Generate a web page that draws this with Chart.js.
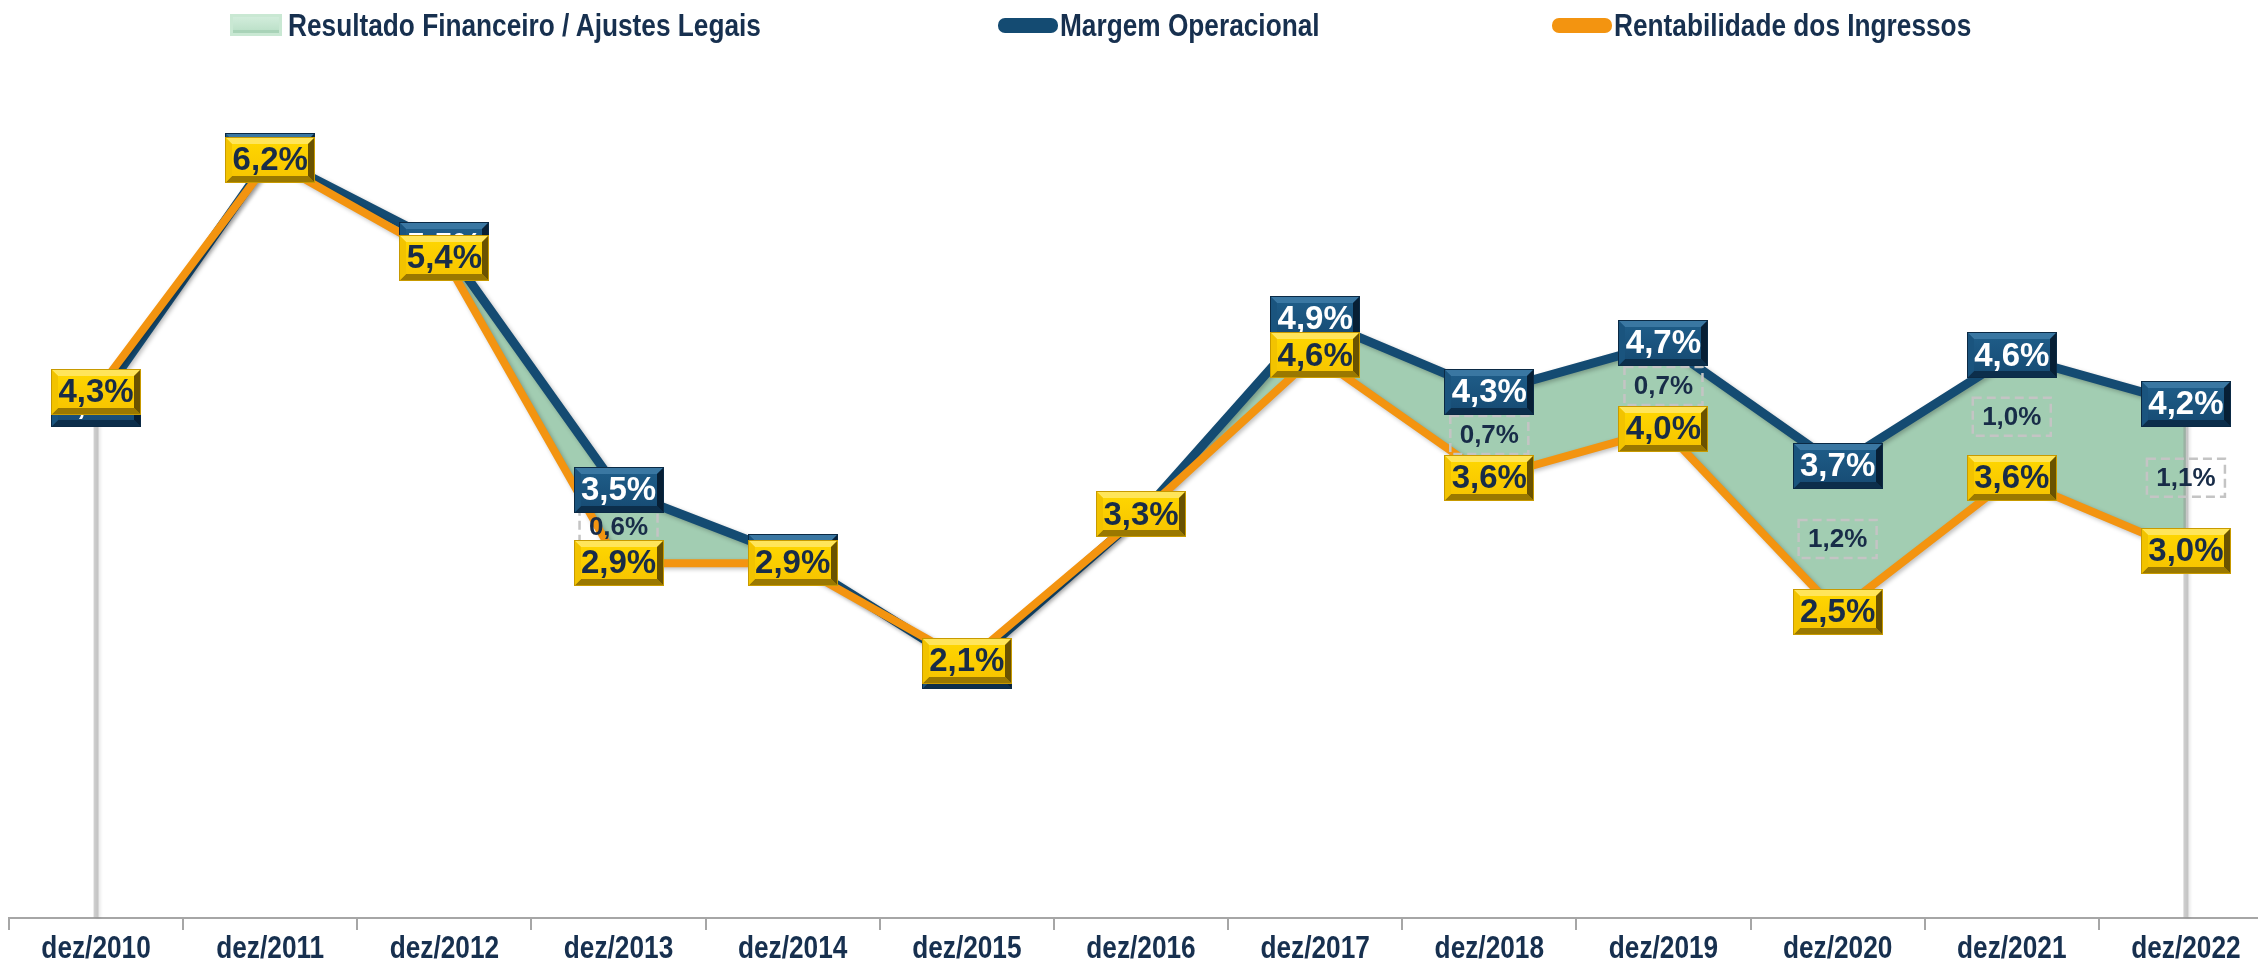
<!DOCTYPE html>
<html>
<head>
<meta charset="utf-8">
<script src="https://cdn.jsdelivr.net/npm/chart.js@4.4.1/dist/chart.umd.min.js"></script>
<style>
  body { margin: 0; background: #fff; overflow: hidden; }
  #wrap { position: relative; width: 2258px; height: 960px; overflow: hidden; }
  #grafico { position: absolute; left: 0; top: 0; }
  .leg { position: absolute; top: 9px; font: bold 32px "Liberation Sans", Arial, sans-serif;
         line-height: 32px; color: #17304f; white-space: nowrap;
         transform: scaleX(0.82); transform-origin: 0 50%; }
  .sw { position: absolute; }
</style>
</head>
<body>
<div id="wrap">
  <canvas id="grafico" width="2290" height="960"></canvas>
  <div class="sw" style="left:230px;top:14px;width:52px;height:22px;background:linear-gradient(#d6efdf,#b4dcc2);box-shadow:inset 0 0 0 3px #c9e8d3, inset 0 -3px 0 3px #a9d3b8;"></div>
  <div class="leg" style="left:288px">Resultado Financeiro / Ajustes Legais</div>
  <div class="sw" style="left:998px;top:18px;width:60px;height:15px;border-radius:7px;background:#144b72;"></div>
  <div class="leg" style="left:1060px">Margem Operacional</div>
  <div class="sw" style="left:1552px;top:18px;width:60px;height:15px;border-radius:7px;background:#f39410;"></div>
  <div class="leg" style="left:1614px">Rentabilidade dos Ingressos</div>
</div>
<script>
var anos = ['dez/2010', 'dez/2011', 'dez/2012', 'dez/2013', 'dez/2014', 'dez/2015', 'dez/2016',
            'dez/2017', 'dez/2018', 'dez/2019', 'dez/2020', 'dez/2021', 'dez/2022'];
var margemOperacional = [4.2, 6.23, 5.5, 3.5, 2.95, 2.06, 3.3, 4.9, 4.3, 4.7, 3.7, 4.6, 4.2];
var rentabilidade = [4.3, 6.2, 5.4, 2.9, 2.9, 2.1, 3.3, 4.6, 3.6, 4.0, 2.5, 3.6, 3.0];
var resultadoFinanceiro = [null, null, null, 0.6, null, null, null, null, 0.7, 0.7, 1.2, 1.0, 1.1];

var azul = '#144b72';
var laranja = '#f39410';
var verde = '#a2cdb2';
var textoEscuro = '#182c48';

function pct(v) {
  return v.toFixed(1).replace('.', ',') + '%';
}

function bevelBox(ctx, cx, cy, w, h, pal) {
  var x = Math.round(cx - w / 2), y = Math.round(cy - h / 2), b = 7;
  var g = ctx.createLinearGradient(0, y, 0, y + h);
  g.addColorStop(0, pal.face[0]);
  g.addColorStop(1, pal.face[1]);
  ctx.fillStyle = g;
  ctx.fillRect(x, y, w, h);
  function quad(pts, c) {
    ctx.beginPath();
    ctx.moveTo(pts[0], pts[1]);
    for (var i = 2; i < pts.length; i += 2) ctx.lineTo(pts[i], pts[i + 1]);
    ctx.closePath();
    ctx.fillStyle = c;
    ctx.fill();
  }
  quad([x, y, x + w, y, x + w - b, y + b, x + b, y + b], pal.top);
  quad([x, y + h, x + w, y + h, x + w - b, y + h - b, x + b, y + h - b], pal.bottom);
  quad([x, y, x + b, y + b, x + b, y + h - b, x, y + h], pal.left);
  quad([x + w, y, x + w - b, y + b, x + w - b, y + h - b, x + w, y + h], pal.right);
  ctx.strokeStyle = pal.border;
  ctx.lineWidth = 1;
  ctx.strokeRect(x + 0.5, y + 0.5, w - 1, h - 1);
}

var paletaAzul = { face: ['#1f5e8a', '#164a72'], top: '#3a77a2', bottom: '#0c2e4b', left: '#1a547e', right: '#071f35', border: '#0b2a45' };
var paletaAmarela = { face: ['#ffd800', '#f6c200'], top: '#ffe55a', bottom: '#9a7800', left: '#f2c300', right: '#6a5200', border: '#c89a00' };

var rotulos = {
  id: 'rotulos',
  afterDatasetsDraw: function(chart) {
    var ctx = chart.ctx;
    var y0 = chart.scales.y.getPixelForValue(0);
    var azulPts = chart.getDatasetMeta(1).data;
    var laranjaPts = chart.getDatasetMeta(2).data;

    // bordas laterais da area
    ctx.save();
    ctx.strokeStyle = 'rgba(150,150,150,0.45)';
    ctx.lineWidth = 5;
    ctx.shadowColor = 'rgba(0,0,0,0.2)';
    ctx.shadowBlur = 3;
    ctx.shadowOffsetX = 2;
    [0, anos.length - 1].forEach(function(i) {
      ctx.beginPath();
      ctx.moveTo(azulPts[i].x, azulPts[i].y);
      ctx.lineTo(azulPts[i].x, y0);
      ctx.stroke();
    });
    ctx.restore();

    ctx.save();
    ctx.textAlign = 'center';
    ctx.textBaseline = 'middle';

    // resultado financeiro
    ctx.font = 'bold 26px "Liberation Sans", Arial, sans-serif';
    for (var i = 0; i < anos.length; i++) {
      if (resultadoFinanceiro[i] == null) continue;
      var cx = azulPts[i].x;
      var cy = (azulPts[i].y + laranjaPts[i].y) / 2;
      ctx.setLineDash([9, 5]);
      ctx.strokeStyle = '#c4c4c4';
      ctx.lineWidth = 2.5;
      ctx.strokeRect(cx - 39, cy - 19, 78, 38);
      ctx.setLineDash([]);
      ctx.fillStyle = textoEscuro;
      ctx.fillText(pct(resultadoFinanceiro[i]), cx, cy + 1);
    }

    ctx.font = 'bold 33px "Liberation Sans", Arial, sans-serif';
    for (var j = 0; j < anos.length; j++) {
      bevelBox(ctx, azulPts[j].x, azulPts[j].y, 90, 46, paletaAzul);
      ctx.fillStyle = '#ffffff';
      ctx.fillText(pct(margemOperacional[j]), azulPts[j].x, azulPts[j].y + 1);
    }
    for (var k = 0; k < anos.length; k++) {
      bevelBox(ctx, laranjaPts[k].x, laranjaPts[k].y, 90, 46, paletaAmarela);
      ctx.fillStyle = textoEscuro;
      ctx.fillText(pct(rentabilidade[k]), laranjaPts[k].x, laranjaPts[k].y + 1);
    }
    ctx.restore();
  },
  afterDraw: function(chart) {
    // rotulos do eixo x em fonte condensada
    var ctx = chart.ctx;
    var sx = chart.scales.x;
    ctx.save();
    ctx.font = 'bold 32px "Liberation Sans", Arial, sans-serif';
    ctx.fillStyle = '#17304f';
    ctx.textAlign = 'center';
    ctx.textBaseline = 'middle';
    for (var i = 0; i < anos.length; i++) {
      var x = sx.getPixelForTick(i);
      ctx.save();
      ctx.translate(x, sx.top + 31);
      ctx.scale(0.82, 1);
      ctx.fillText(anos[i], 0, 0);
      ctx.restore();
    }
    ctx.restore();
  }
};

var sombra = {
  id: 'sombra',
  beforeDatasetDraw: function(chart, args) {
    if (args.index === 0) return;
    var ctx = chart.ctx;
    ctx.save();
    ctx.shadowColor = 'rgba(0,0,0,0.25)';
    ctx.shadowBlur = 4;
    ctx.shadowOffsetX = 2;
    ctx.shadowOffsetY = 2;
  },
  afterDatasetDraw: function(chart, args) {
    if (args.index === 0) return;
    chart.ctx.restore();
  }
};

var ctx = document.getElementById('grafico');
var grafico = new Chart(ctx, {
  type: 'line',
  data: {
    labels: anos,
    datasets: [{
      label: 'Resultado Financeiro / Ajustes Legais',
      data: margemOperacional,
      borderWidth: 0,
      pointRadius: 0,
      fill: { target: 2, above: verde, below: 'rgba(0,0,0,0)' },
      order: 3
    }, {
      label: 'Margem Operacional',
      data: margemOperacional,
      borderColor: azul,
      borderWidth: 9,
      pointRadius: 0,
      fill: false,
      order: 2
    }, {
      label: 'Rentabilidade dos Ingressos',
      data: rentabilidade,
      borderColor: laranja,
      borderWidth: 8,
      pointRadius: 0,
      fill: false,
      order: 1
    }]
  },
  options: {
    responsive: false,
    animation: false,
    devicePixelRatio: 1,
    clip: false,
    layout: { padding: { left: 9, right: 17, top: 62, bottom: 0 } },
    elements: { line: { tension: 0, borderJoinStyle: 'round' } },
    plugins: {
      legend: { display: false },
      tooltip: { enabled: false }
    },
    scales: {
      x: {
        offset: true,
        afterFit: function(s) { s.height = 42; },
        grid: { offset: true, drawOnChartArea: false, drawTicks: true, tickLength: 12, color: '#a6a6a6', lineWidth: 2 },
        border: { display: true, color: '#a6a6a6', width: 2 },
        ticks: { display: false }
      },
      y: { display: false, min: 0, max: 7 }
    }
  },
  plugins: [sombra, rotulos]
});
</script>
</body>
</html>
